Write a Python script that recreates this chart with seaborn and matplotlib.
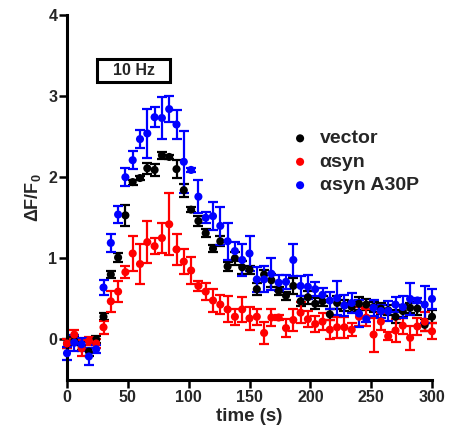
import numpy as np
import pandas as pd
import matplotlib
matplotlib.use("Agg")
import matplotlib.pyplot as plt
import seaborn as sns
from matplotlib.patches import Rectangle

# ---------------- data ----------------
time_s = [0, 6, 12, 18, 24, 30, 36, 42, 48, 54, 60, 66, 72, 78, 84, 90, 96, 102,
          108, 114, 120, 126, 132, 138, 144, 150, 156, 162, 168, 174, 180, 186,
          192, 198, 204, 210, 216, 222, 228, 234, 240, 246, 252, 258, 264, 270,
          276, 282, 288, 294, 300]

vector_mean = [-0.05, -0.02, -0.08, -0.15, 0.00, 0.28, 0.80, 1.01, 1.53, 1.94, 1.99,
               2.11, 2.09, 2.27, 2.25, 2.10, 1.84, 1.60, 1.46, 1.31, 1.12, 1.21,
               0.90, 1.00, 0.89, 0.86, 0.62, 0.80, 0.73, 0.60, 0.54, 0.66, 0.47,
               0.52, 0.44, 0.47, 0.31, 0.45, 0.42, 0.40, 0.44, 0.43, 0.40, 0.38,
               0.36, 0.28, 0.35, 0.39, 0.38, 0.18, 0.28]
vector_err = [0.05, 0.05, 0.05, 0.05, 0.04, 0.04, 0.04, 0.05, 0.13, 0.03, 0.03,
              0.07, 0.07, 0.04, 0.03, 0.11, 0.08, 0.03, 0.06, 0.05, 0.04, 0.06,
              0.06, 0.08, 0.08, 0.05, 0.07, 0.06, 0.08, 0.05, 0.05, 0.10, 0.06,
              0.08, 0.07, 0.06, 0.07, 0.08, 0.07, 0.06, 0.08, 0.07, 0.06, 0.07,
              0.06, 0.08, 0.07, 0.06, 0.08, 0.07, 0.08]

asyn_mean = [-0.05, 0.06, -0.11, -0.02, -0.05, 0.15, 0.47, 0.59, 0.83, 1.06, 0.93,
             1.20, 1.15, 1.25, 1.42, 1.11, 0.96, 0.85, 0.66, 0.59, 0.48, 0.43,
             0.37, 0.28, 0.37, 0.26, 0.28, 0.08, 0.27, 0.27, 0.14, 0.24, 0.33,
             0.25, 0.19, 0.22, 0.12, 0.15, 0.15, 0.12, 0.28, 0.27, 0.06, 0.22,
             0.04, 0.11, 0.17, 0.02, 0.16, 0.22, 0.10]
asyn_err = [0.06, 0.06, 0.10, 0.05, 0.05, 0.08, 0.13, 0.13, 0.07, 0.21, 0.25,
            0.26, 0.10, 0.18, 0.38, 0.19, 0.15, 0.17, 0.06, 0.10, 0.14, 0.12,
            0.16, 0.10, 0.15, 0.14, 0.10, 0.13, 0.10, 0.03, 0.11, 0.14, 0.13,
            0.10, 0.10, 0.10, 0.12, 0.13, 0.13, 0.08, 0.12, 0.10, 0.21, 0.10,
            0.05, 0.14, 0.10, 0.15, 0.10, 0.12, 0.10]

a30p_mean = [-0.17, -0.04, -0.06, -0.21, -0.12, 0.64, 1.19, 1.54, 2.00, 2.21, 2.47,
             2.54, 2.74, 2.73, 2.84, 2.65, 2.19, 2.09, 1.76, 1.50, 1.52, 1.40,
             1.21, 1.09, 0.98, 1.06, 0.74, 0.74, 0.81, 0.70, 0.71, 0.98, 0.66,
             0.65, 0.62, 0.55, 0.48, 0.51, 0.42, 0.45, 0.32, 0.25, 0.39, 0.35,
             0.35, 0.43, 0.40, 0.50, 0.48, 0.43, 0.50]
a30p_err = [0.08, 0.10, 0.08, 0.10, 0.05, 0.09, 0.11, 0.11, 0.11, 0.11, 0.11,
            0.30, 0.12, 0.26, 0.16, 0.18, 0.38, 0.02, 0.20, 0.07, 0.17, 0.23,
            0.23, 0.11, 0.20, 0.22, 0.15, 0.16, 0.20, 0.10, 0.09, 0.20, 0.12,
            0.15, 0.09, 0.09, 0.11, 0.21, 0.13, 0.12, 0.17, 0.03, 0.10, 0.08,
            0.12, 0.09, 0.13, 0.20, 0.03, 0.23, 0.12]

groups = ["vector", "αsyn", "αsyn A30P"]
colors = ["#000000", "#ff0000", "#0000ff"]
stim_label = "10 Hz"
stim_start, stim_end = 25, 85
x_ticks = [0, 50, 100, 150, 200, 250, 300]
y_ticks = [0, 1, 2, 3, 4]

# ---------------- build table ----------------
frames = []
for g, m, e in zip(groups, [vector_mean, asyn_mean, a30p_mean],
                   [vector_err, asyn_err, a30p_err]):
    frames.append(pd.DataFrame({"time": time_s, "dff": m, "err": e, "group": g}))
df = pd.concat(frames, ignore_index=True)

# ---------------- style ----------------
sns.set_style("ticks")
plt.rcParams["font.family"] = ["Liberation Sans", "DejaVu Sans"]
plt.rcParams["font.weight"] = "bold"
plt.rcParams["mathtext.fontset"] = "custom"
plt.rcParams["mathtext.bf"] = "Liberation Sans:bold"
plt.rcParams["mathtext.rm"] = "Liberation Sans:bold"

fig = plt.figure(figsize=(4.5, 4.44), dpi=100)
ax = fig.add_axes([67 / 450, 64 / 444, 365 / 450, 365 / 444])

palette = dict(zip(groups, colors))
for g in groups:
    sub = df[df["group"] == g]
    ax.errorbar(sub["time"], sub["dff"], yerr=sub["err"], fmt="none",
                ecolor=palette[g], elinewidth=1.6, capsize=3.6, capthick=1.6,
                clip_on=False, zorder=2)
    sns.scatterplot(data=sub, x="time", y="dff", color=palette[g], s=34,
                    edgecolor="none", ax=ax, label=g, clip_on=False, zorder=3)

ax.set_xlim(0, 300)
ax.set_ylim(-0.5, 4)
ax.set_xticks(x_ticks)
ax.set_yticks(y_ticks)
ax.tick_params(axis="both", length=5.5, width=1.8, pad=1.5, labelsize=11.5,
               color="black")
for lab in ax.get_xticklabels() + ax.get_yticklabels():
    lab.set_fontweight("bold")
for side in ["top", "right"]:
    ax.spines[side].set_visible(False)
for side in ["left", "bottom"]:
    ax.spines[side].set_linewidth(2.2)
    ax.spines[side].set_color("black")

ax.set_xlabel("time (s)", fontsize=13.5, fontweight="bold", labelpad=2)
ax.set_ylabel(r"ΔF/F$_\mathbf{0}$", fontsize=13, fontweight="bold", labelpad=4)

# stimulus box
ax.add_patch(Rectangle((stim_start, 3.17), stim_end - stim_start, 0.29,
                       fill=False, edgecolor="black", linewidth=2.2, zorder=4))
ax.text((stim_start + stim_end) / 2, 3.315, stim_label, ha="center", va="center",
        fontsize=11.5, fontweight="bold")

leg = ax.legend(loc="upper left", bbox_to_anchor=(0.58, 0.712), frameon=False,
                handletextpad=0.4, labelspacing=0.3, prop={"weight": "bold", "size": 14},
                markerscale=1.0, handlelength=1.2, borderpad=0)

fig.savefig("out.png", dpi=100)
